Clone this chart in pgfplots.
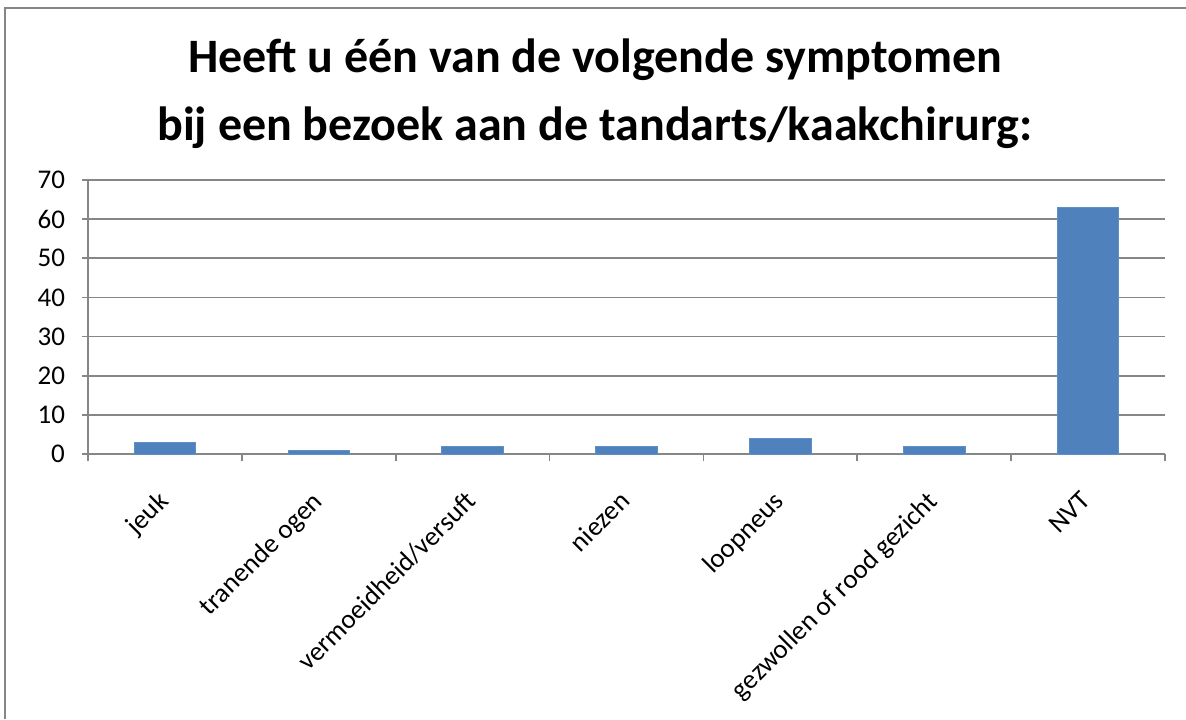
\documentclass[border=0pt]{standalone}
\usepackage{pgfplots}
\pgfplotsset{compat=1.18}
\usepackage{fontspec}
\setmainfont{Carlito}
\definecolor{barblue}{RGB}{79,129,189}
\definecolor{gridgray}{RGB}{134,134,134}
\begin{document}
\begin{tikzpicture}
  \begin{axis}[
      scale only axis,
      width=538.5pt, height=137pt,
      ybar, bar width=0.4,
      xmin=-0.5, xmax=6.5,
      ymin=0, ymax=70,
      ytick={0,10,...,70},
      xtick={0,...,6},
      xticklabels={jeuk, tranende ogen, vermoeidheid/versuft, niezen, loopneus, gezwollen of rood gezicht, NVT},
      minor xtick={-0.5,0.5,...,6.5},
      x tick label style={rotate=45, anchor=north east, font=\fontsize{13.5}{16}\selectfont, xshift=-10pt, yshift=-4pt},
      y tick label style={font=\fontsize{13.5}{16}\selectfont},
      /pgf/number format/assume math mode=true,
      axis x line=bottom, axis y line=left,
      axis line style={-, gridgray, line width=1pt},
      ymajorgrids, grid style={gridgray, line width=0.9pt},
      tick align=outside,
      major tick length=3pt, minor tick length=3.5pt,
      x tick style={draw=none},
      minor x tick style={draw=gridgray, line width=0.9pt},
      y tick style={gridgray, line width=0.9pt},
      yticklabel style={xshift=-5pt},
    ]
    \addplot[fill=barblue, draw=barblue!90!white] coordinates {
      (0,3) (1,1) (2,2) (3,2) (4,4) (5,2) (6,63)
    };
  \end{axis}
  % page frame (1186 x 719 px at 0.5pt/px); axis box starts at px (88, 454)
  \begin{scope}[x=0.5pt, y=-0.5pt, shift={(-44pt,227pt)}]
    \path[use as bounding box] (0,0) rectangle (1186,719);
    \draw[gridgray, line width=1pt] (5,719) -- (5,8) -- (1186,8);
    \node[font=\bfseries\fontsize{24}{34}\selectfont, align=center] at (595,94)
      {Heeft u één van de volgende symptomen\\bij een bezoek aan de tandarts/kaakchirurg:};
  \end{scope}
\end{tikzpicture}
\end{document}
